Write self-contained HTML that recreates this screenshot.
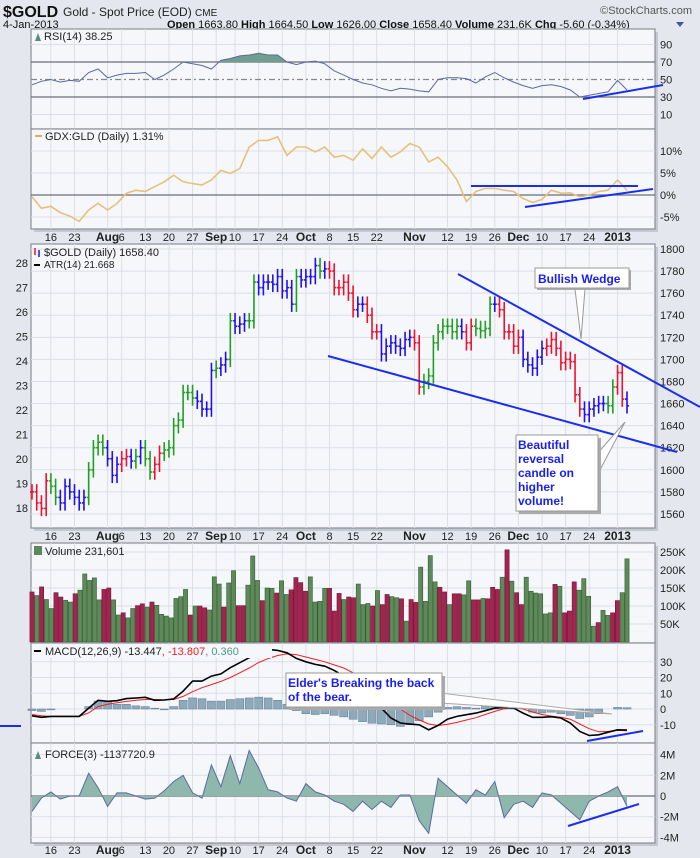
<!DOCTYPE html>
<html><head><meta charset="utf-8"><style>
html,body{margin:0;padding:0;background:#e4e8ee;}
svg{display:block;font-family:"Liberation Sans",sans-serif;}
</style></head><body>
<svg id="c" width="700" height="858" viewBox="0 0 700 858">
<rect x="0" y="0" width="700" height="858" fill="#e4e8ee"/>
<g>
<text x="3" y="17" font-size="16" font-weight="bold" fill="#111">$GOLD</text>
<text x="63" y="16" font-size="12" fill="#222">Gold - Spot Price (EOD) <tspan font-size="10">CME</tspan></text>
<text x="692" y="14" font-size="11" fill="#555" text-anchor="end">©StockCharts.com</text>
<text x="3" y="28" font-size="11" fill="#111">4-Jan-2013</text>
<text x="167" y="28" font-size="11" fill="#111"><tspan font-weight="bold">Open</tspan> 1663.80 <tspan font-weight="bold">High</tspan> 1664.50 <tspan font-weight="bold">Low</tspan> 1626.00 <tspan font-weight="bold">Close</tspan> 1658.40 <tspan font-weight="bold">Volume</tspan> 231.6K <tspan font-weight="bold">Chg</tspan> -5.60 (-0.34%)</text>
<path d="M676 22 L684 22 L680 27 Z" fill="#3a5a9a"/>
</g>
<g id="g"></g>
</svg>
<script>
// ---------- data ----------
var closes=[1580,1570,1565,1590,1585,1575,1570,1585,1580,1575,1570,1575,1600,1620,1625,1620,1610,1595,1605,1610,1612,1608,1612,1620,1610,1598,1605,1615,1618,1620,1640,1645,1670,1670,1665,1662,1655,1655,1690,1692,1695,1700,1735,1730,1732,1735,1735,1770,1765,1770,1770,1768,1775,1762,1765,1750,1775,1772,1775,1775,1785,1780,1782,1780,1765,1765,1770,1760,1745,1750,1750,1740,1725,1725,1705,1712,1715,1712,1710,1718,1720,1715,1675,1680,1685,1715,1725,1730,1730,1725,1730,1725,1715,1730,1728,1726,1728,1750,1750,1745,1725,1725,1712,1720,1700,1695,1692,1702,1710,1712,1718,1710,1697,1700,1698,1668,1655,1650,1655,1658,1660,1660,1658,1675,1688,1664,1658];
var barColors="rrrrggbbbbbbggggbbbrrbgbggrrgggggggbbbbgbbgbbbggbbbbbbbbgbbbbgbrrrrrrbbrrrbbbbbbbrrggggggggbrrggggbrrrrrbbbbbrrrrrrrrbbbbbggrr";
var rsi=[44,48,50,47,49,48,58,62,52,55,57,57,58,50,55,62,70,68,66,62,72,74,77,78,80,78,78,70,67,70,71,68,60,55,50,46,44,40,37,40,39,37,36,50,52,52,51,46,53,58,52,47,43,40,43,44,42,38,30,32,34,36,49,38];
var gdx=[-0.4,-3,-2.6,-4,-4.8,-6,-3.4,-1.9,-3.4,-1.9,0.4,1.1,0.8,1.9,3,4.5,3,2.6,2.3,3.4,5.6,4.9,6,10.9,12.4,12.4,13.2,9,10.9,10.9,9.8,10.9,8.6,9,7.9,10.5,8.3,10.9,8.6,9.8,11.7,10.9,7.5,8.6,6.4,3.4,-1.5,0.8,1.5,1.5,1.1,0.8,-0.8,-1.7,-1,1.1,0.4,0.5,-0.4,0,0.8,1.1,3.4,1.1];
var volumes=[139,129,153,118,93,137,125,116,111,134,144,189,171,178,117,146,150,117,75,81,67,93,101,106,97,111,102,77,72,67,121,126,146,75,100,100,95,89,181,161,97,164,198,101,101,158,239,171,115,150,149,136,170,132,145,179,165,141,181,111,113,149,149,86,135,118,125,123,161,104,107,100,143,104,132,126,123,120,58,118,110,208,113,240,167,152,139,104,134,134,131,170,117,117,121,120,152,146,180,256,169,137,104,180,141,136,134,78,81,160,155,81,86,167,144,176,127,44,54,88,74,81,115,137,231];
var volColors="rgrggrrggrgggggrrggrggrrgrgggggggrgrrgggrggrrgggrggrggrrrrggggrrrgrrgggrgrrggrgrrggggrrgrrggrrgrrrgrgrrggggggrgrrrggggrggrr";
var macd=[-4.3,-5.3,-4.7,-4.7,-4.7,-4.7,0.6,5.5,4.9,5.3,6.6,7,7.4,5.5,5.7,6.4,11.3,17.7,17.7,20.9,22.3,26.2,29.4,32.6,35.7,37.9,37.2,35.7,32.1,30,28.3,27.2,24.5,20.9,17.7,11.3,6,0.6,-5.7,-8.9,-9.6,-10,-13.2,-10.4,-6.4,-4.7,-3.6,-2.6,-1.1,0.6,1.1,0.6,-2.6,-5.3,-5.3,-4.9,-5.7,-8.9,-14.3,-16.8,-16.4,-14.7,-13.2,-13.4];
var signal=[-3.5,-4.3,-4.7,-4.7,-4.7,-4.7,-2.5,1.5,3,4,4.8,5.5,6,6,5.8,6,8,11,13.5,15.5,17.5,20,23,26,29.5,32,34,35,34.5,33,31.5,30,28,26,23,19,14.5,10,5,0,-4,-7,-9.5,-10.5,-9.7,-8.5,-7,-5.5,-3.5,-1.5,0.2,1,0,-2,-3.5,-4.5,-5.2,-6.5,-9.5,-12.5,-14.5,-14.2,-13.6,-13.8];
var hist=[-1,-1.5,-0.5,0,0,0,1.5,5,5,3,3,2,1.5,0.5,-0.5,1.5,5.5,7,6.5,5,5,6,6.5,7,7.5,7,5.5,3,-1,-3,-3.5,-3,-4,-5,-6.5,-8,-9,-9.5,-10,-11,-10,-7.5,-5,-2,1,1.5,1,0.5,1.5,1.5,2.5,1,0,-2,-2.5,-2,-3,-4,-6,-5,-3,0,1,0.8];
var force=[-1.5,-0.2,0.4,-0.3,0,0,2.2,0.8,-1,0.3,0.3,0,-0.3,-0.2,0.5,1.4,2,0.3,-0.2,3,0.9,3.9,1.2,4.4,2.7,0.6,0.4,-0.2,-0.5,1.2,0.4,0.1,-0.5,-0.8,-1.5,-0.5,-1.3,-0.5,-1.1,0.1,0.1,-2.4,-3.6,1.7,0.9,0.1,-0.7,0.6,0.1,1.4,-2.1,-0.8,-0.5,-1.1,0.3,0.1,-0.7,-1.5,-2.3,-0.5,0,0.4,0.9,-1];
var xLabels=["16","23","Aug","6","13","20","27","Sep","10","17","24","Oct","8","15","22","Nov","12","19","26","Dec","10","17","24","2013"];
var xLabelBars=[4,9,16,19,24,29,34,39,43,48,53,58,63,68,73,81,88,93,98,103,108,113,118,124];
var xLabelBold=[0,0,1,0,0,0,0,1,0,0,0,1,0,0,0,1,0,0,0,1,0,0,0,1];
var priceTicks=[1800,1780,1760,1740,1720,1700,1680,1660,1640,1620,1600,1580,1560];
var atrTicks=[18,19,20,21,22,23,24,25,26,27,28];
var rsiTicks=[90,70,50,30,10];
var gdxTicks=[10,5,0,-5];
var volTicks=[250,200,150,100,50];
var macdTicks=[30,20,10,0,-10];
var forceTicks=[4,2,0,-2,-4];

// ---------- geometry ----------
var NS="http://www.w3.org/2000/svg", G=document.getElementById('g');
var L=31,R=655,X0=32,X1=627;
function bx(i){return X0+i*(X1-X0)/(closes.length-1);}
function sx(k,n){return X0+k*(X1-X0)/(n-1);}
function py(p){return 249+(1800-p)*1.104;}
function ay(a){return 263+(28-a)*24.5;}
function ry(v){return 62+(70-v)*0.875;}
function gy(v){return 195-v*4.4;}
function vy(v){return 642-v*0.36;}
function my(v){return 709-v*1.575;}
function fy(v){return 796-v*10.35;}
function el(t,a,p){var e=document.createElementNS(NS,t);for(var k in a)e.setAttribute(k,a[k]);(p||G).appendChild(e);return e;}
function txt(x,y,s,a,p){var e=el('text',Object.assign({x:x,y:y,'font-size':11,fill:'#222'},a||{}),p);e.textContent=s;return e;}

function panel(name,top,bot){
  var g=el('g',{});
  
  
  el('rect',{x:L+3,y:top+3,width:R-L,height:bot-top,fill:'#c4c8d0'},g);
  el('rect',{x:L,y:top,width:R-L,height:bot-top,fill:'#f5f7fb',stroke:'#8a8e96','stroke-width':1.2},g);
  for(var j=0;j<xLabelBars.length;j++){var x=bx(xLabelBars[j]);el('line',{x1:x,x2:x,y1:top,y2:bot,stroke:'#dcdfe6','stroke-width':1},g);}
  return g;
}
function yTicks(g,ticks,fn,fmt,top,bot,special){
  ticks.forEach(function(t){var y=fn(t);
    var st=special&&special[t];
    el('line',{x1:L,x2:R,y1:y,y2:y,stroke:st?st.c:'#dcdfe6','stroke-width':st?1.2:1,'stroke-dasharray':st&&st.d?st.d:'none'},g);
    var tk=txt(660,y+4,fmt(t),{'font-size':11,fill:'#222'},g);
    
    
  });
}
function xAxis(y){
  var g=el('g',{});
  
  
  for(var j=0;j<xLabels.length;j++){
    txt(bx(xLabelBars[j]),y,xLabels[j],{'text-anchor':'middle','font-size':xLabelBold[j]?12:11,'font-weight':xLabelBold[j]?'bold':'normal',fill:'#222'},g);
  }
}
function lineFrom(arr,fn,color,w,p){
  var d='';arr.forEach(function(v,k){d+=(k?'L':'M')+sx(k,arr.length).toFixed(1)+' '+fn(v).toFixed(1);});
  return el('path',{d:d,fill:'none',stroke:color,'stroke-width':w},p);
}

// ---------- RSI ----------
var gr=panel('rsi-panel',29,129);
yTicks(gr,rsiTicks,ry,String,29,129,{70:{c:'#6a6e76'},30:{c:'#6a6e76'},50:{c:'#888',d:'6,3,2,3'}});
(function(){var cp=el('clipPath',{id:'above70'},gr);el('rect',{x:L,y:29,width:R-L,height:ry(70)-29},cp);
 var d='M'+sx(0,rsi.length)+' '+ry(70);rsi.forEach(function(v,k){d+='L'+sx(k,rsi.length).toFixed(1)+' '+ry(v).toFixed(1);});d+='L'+sx(rsi.length-1,rsi.length)+' '+ry(70)+'Z';
 var a=el('path',{d:d,fill:'#6f9e8e','clip-path':'url(#above70)'},gr);})();
var rl=lineFrom(rsi,ry,'#5a6aa0',1,gr);
txt(44,40,'RSI(14) 38.25',{'font-size':11},gr);
el('path',{d:'M35 41 L38 33 L41 41 Z',fill:'#5a8a7a'},gr);

// ---------- GDX:GLD ----------
var gg=panel('gdx-gld-panel',129,229);
yTicks(gg,gdxTicks,gy,function(t){return t+'%';},129,229,{0:{c:'#6a6e76'}});
var gl=lineFrom(gdx,gy,'#e8c07a',1.6,gg);
el('line',{x1:35,x2:42,y1:136,y2:136,stroke:'#e0b060','stroke-width':2},gg);
txt(45,140,'GDX:GLD (Daily) 1.31%',{'font-size':11},gg);
xAxis(241);

// ---------- Price ----------
var gp=panel('price-panel',244,528);
yTicks(gp,priceTicks,py,String,244,528);
atrTicks.forEach(function(a){var t=txt(28,ay(a)+4,String(a),{'text-anchor':'end','font-size':11},gp);});
var cmap={g:'#1fa01f',r:'#f01030',b:'#2010f0'};
closes.forEach(function(c,i){
  var o=i?closes[i-1]:c,hi=Math.max(o,c)+7,lo=Math.min(o,c)-7,x=bx(i),col=cmap[barColors[i]||'b'];
  var b=el('g',{stroke:col,'stroke-width':1.6},gp);
  
  
  el('line',{x1:x,x2:x,y1:py(hi),y2:py(lo)},b);
  el('line',{x1:x-2,x2:x,y1:py(o),y2:py(o)},b);
  el('line',{x1:x,x2:x+2,y1:py(c),y2:py(c)},b);
});
txt(44,256,'$GOLD (Daily) 1658.40',{'font-size':11},gp);
txt(44,268,'ATR(14) 21.668',{'font-size':10},gp);
el('line',{x1:34,x2:40,y1:265,y2:265,stroke:'#000','stroke-width':2},gp);
el('line',{x1:35,x2:35,y1:248,y2:255,stroke:'#f01030','stroke-width':1.5},gp);
el('line',{x1:39,x2:39,y1:250,y2:257,stroke:'#2010f0','stroke-width':1.5},gp);
var an=el('g',{},gp);
el('line',{x1:458,y1:274,x2:700,y2:407,stroke:'#1a2ef0','stroke-width':2},an);
el('line',{x1:328,y1:356,x2:677,y2:452,stroke:'#1a2ef0','stroke-width':2},an);
el('path',{d:'M575 289 L581 339 L585 289 Z',fill:'#fff',stroke:'#999'},an);
el('rect',{x:537,y:270,width:94,height:20,fill:'#aaa'},an);
el('rect',{x:535,y:268,width:94,height:20,fill:'#fff',stroke:'#999'},an);
txt(538,283,'Bullish Wedge',{'font-size':12,'font-weight':'bold',fill:'#1a1ef0'},an);
el('path',{d:'M596 455 L625 422 L600 470 Z',fill:'#fff',stroke:'#999'},an);
el('rect',{x:519,y:438,width:82,height:76,fill:'#aaa'},an);
el('rect',{x:516,y:435,width:82,height:76,fill:'#fff',stroke:'#999'},an);
['Beautiful','reversal','candle on','higher','volume!'].forEach(function(s,j){txt(518,449+j*14,s,{'font-size':12,'font-weight':'bold',fill:'#1a1ef0'},an);});
xAxis(540);

// ---------- Volume ----------
var gv=panel('volume-panel',543,643);
yTicks(gv,volTicks,vy,function(t){return t+'K';},543,643);
volumes.forEach(function(v,i){
  var x=X0+i*(X1-X0)/(volumes.length-1);
  var r=el('rect',{x:x-2.1,y:vy(v),width:4.2,height:642-vy(v),fill:volColors[i]==='r'?'#a3244e':'#5e8a5a',stroke:volColors[i]==='r'?'#70183a':'#355e35','stroke-width':0.6},gv);
  
  
});
el('rect',{x:34,y:546,width:8,height:9,fill:'#5a8a5a'},gv);
txt(45,555,'Volume 231,601',{'font-size':11},gv);

// ---------- MACD ----------
var gm=panel('macd-panel',643,743);
yTicks(gm,macdTicks,my,String,643,743);
hist.forEach(function(h,k){var x=sx(k,hist.length),y0=my(0),y1=my(h);
  var r=el('rect',{x:x-4,y:Math.min(y0,y1),width:8,height:Math.abs(y1-y0),fill:'#8eaab8',stroke:'#6a84a0','stroke-width':0.6},gm);
  
  
});
var ml=lineFrom(signal,my,'#f02020',1,gm);
var mm=lineFrom(macd,my,'#000',1.6,gm);
el('rect',{x:32,y:645,width:240,height:13,fill:'#f5f7fb'},gm);
el('line',{x1:34,x2:41,y1:651,y2:651,stroke:'#000','stroke-width':2},gm);
var mt=txt(45,655,'MACD(12,26,9) -13.447',{'font-size':11},gm);
var s1=el('tspan',{fill:'#f02020'},mt);s1.textContent=', -13.807';
var s2=el('tspan',{fill:'#4a9a8a'},mt);s2.textContent=', 0.360';
var ma=el('g',{},gm);
el('path',{d:'M440 693 L612 714 L440 703 Z',fill:'#fff',stroke:'#aaa'},ma);
el('rect',{x:289,y:676,width:156,height:34,fill:'#aaa'},ma);
el('rect',{x:286,y:673,width:156,height:34,fill:'#fff',stroke:'#999'},ma);
txt(288,687,"Elder's Breaking the back",{'font-size':12,'font-weight':'bold',fill:'#1a1ef0'},ma);
txt(288,701,'of the bear.',{'font-size':12,'font-weight':'bold',fill:'#1a1ef0'},ma);
el('line',{x1:587,y1:741,x2:643,y2:731,stroke:'#1a2ef0','stroke-width':2},gm);

// ---------- Force ----------
var gf=panel('force-panel',743,843);
yTicks(gf,forceTicks,fy,function(t){return t===0?'0':t+'M';},743,843,{0:{c:'#6a6e76'}});
(function(){var d='M'+sx(0,force.length)+' '+fy(0);force.forEach(function(v,k){d+='L'+sx(k,force.length).toFixed(1)+' '+fy(v).toFixed(1);});d+='L'+sx(force.length-1,force.length)+' '+fy(0)+'Z';
 var a=el('path',{d:d,fill:'#8fb8ad',stroke:'none'},gf);})();
var fl=lineFrom(force,fy,'#5a6aa0',1,gf);
el('path',{d:'M35 759 L38 751 L41 759 Z',fill:'#5a8a7a'},gf);
txt(45,758,'FORCE(3) -1137720.9',{'font-size':11},gf);
el('line',{x1:568,y1:826,x2:639,y2:804,stroke:'#1a2ef0','stroke-width':2},gf);
xAxis(854);

// ---------- other trendlines ----------
var tl=el('g',{});
el('line',{x1:583,y1:99,x2:663,y2:85,stroke:'#1a2ef0','stroke-width':2},tl);
el('line',{x1:471,y1:186,x2:638,y2:186,stroke:'#1a2ef0','stroke-width':2},tl);
el('line',{x1:525,y1:207,x2:653,y2:189,stroke:'#1a2ef0','stroke-width':2},tl);
el('line',{x1:0,y1:726,x2:21,y2:726,stroke:'#1a2ef0','stroke-width':2},tl);
</script>
</body></html>
